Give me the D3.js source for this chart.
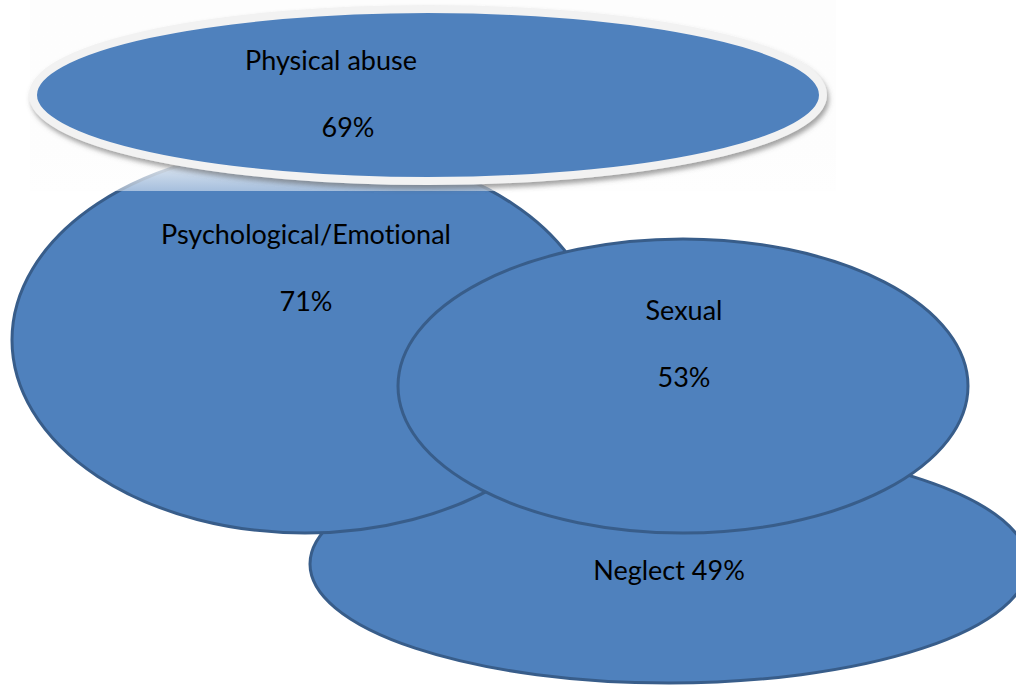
<!DOCTYPE html>
<html>
<head>
<meta charset="utf-8">
<script src="https://cdn.jsdelivr.net/npm/d3@7"></script>
<style>
  html, body { margin: 0; padding: 0; background: #ffffff; }
  svg { display: block; }
  text { font-family: Lato, "Open Sans", sans-serif; fill: #000; font-variant-ligatures: none; font-feature-settings: "liga" 0, "dlig" 0; }
</style>
</head>
<body>
<svg id="chart" width="1016" height="685"></svg>
<script>
// ---- data ----
const categories = ["Neglect", "Psychological/Emotional", "Sexual", "Physical abuse"];
const values = [49, 71, 53, 69];
const labelStyle = ["inline", "stacked", "stacked", "stacked"];

// ---- layout (positions / sizes, kept apart from data) ----
const layout = {
  "Neglect":                 { cx: 669, cy: 564, rx: 359, ry: 119, tx: 669, ty: [580] },
  "Psychological/Emotional": { cx: 305, cy: 340, rx: 293, ry: 193, tx: 306, ty: [244, 311] },
  "Sexual":                  { cx: 683, cy: 386, rx: 285, ry: 147, tx: 684, ty: [320, 387] },
  "Physical abuse":          { cx: 428, cy: 95,  rx: 395, ry: 86,  tx: 331, tx2: 348, ty: [70, 137] }
};

const fill = "#4F81BD", stroke = "#385D8A";
const fontSize = 27;
const svg = d3.select("#chart");
const defs = svg.append("defs");

const shadow = defs.append("filter").attr("id", "shadow")
  .attr("x", "-5%").attr("y", "-10%").attr("width", "110%").attr("height", "130%");
shadow.append("feDropShadow").attr("dx", 2).attr("dy", 4).attr("stdDeviation", 2.5)
  .attr("flood-color", "#555").attr("flood-opacity", 0.55);

const grad = defs.append("linearGradient").attr("id", "fade")
  .attr("x1", 0).attr("y1", 0).attr("x2", 0).attr("y2", 1);
grad.append("stop").attr("offset", "0%").attr("stop-color", "#fdfdfd").attr("stop-opacity", 1);
grad.append("stop").attr("offset", "80%").attr("stop-color", "#fdfdfd").attr("stop-opacity", 0.95);
grad.append("stop").attr("offset", "100%").attr("stop-color", "#fdfdfd").attr("stop-opacity", 0.5);

const pct = d3.format(".0%");
const data = categories.map((c, i) => ({ name: c, value: values[i], style: labelStyle[i], ...layout[c] }));

data.forEach(d => {
  const g = svg.append("g");
  if (d.name === "Physical abuse") {
    // background box of the pasted shape
    svg.insert("rect", "g:last-child")
      .attr("x", 30).attr("y", 0).attr("width", 806).attr("height", 191)
      .attr("fill", "url(#fade)");
    g.append("ellipse")
      .attr("cx", d.cx).attr("cy", d.cy).attr("rx", d.rx).attr("ry", d.ry)
      .attr("fill", fill).attr("stroke", "#f2f2f2").attr("stroke-width", 8)
      .attr("filter", "url(#shadow)");
  } else {
    g.append("ellipse")
      .attr("cx", d.cx).attr("cy", d.cy).attr("rx", d.rx).attr("ry", d.ry)
      .attr("fill", fill).attr("stroke", stroke).attr("stroke-width", 3);
  }
  if (d.style === "inline") {
    g.append("text").attr("x", d.tx).attr("y", d.ty[0]).attr("text-anchor", "middle")
      .attr("font-size", fontSize).text(`${d.name} ${pct(d.value / 100)}`);
  } else {
    g.append("text").attr("x", d.tx).attr("y", d.ty[0]).attr("text-anchor", "middle")
      .attr("font-size", fontSize).text(d.name);
    g.append("text").attr("x", d.tx2 || d.tx).attr("y", d.ty[1]).attr("text-anchor", "middle")
      .attr("font-size", fontSize).text(pct(d.value / 100));
  }
});
</script>
</body>
</html>
